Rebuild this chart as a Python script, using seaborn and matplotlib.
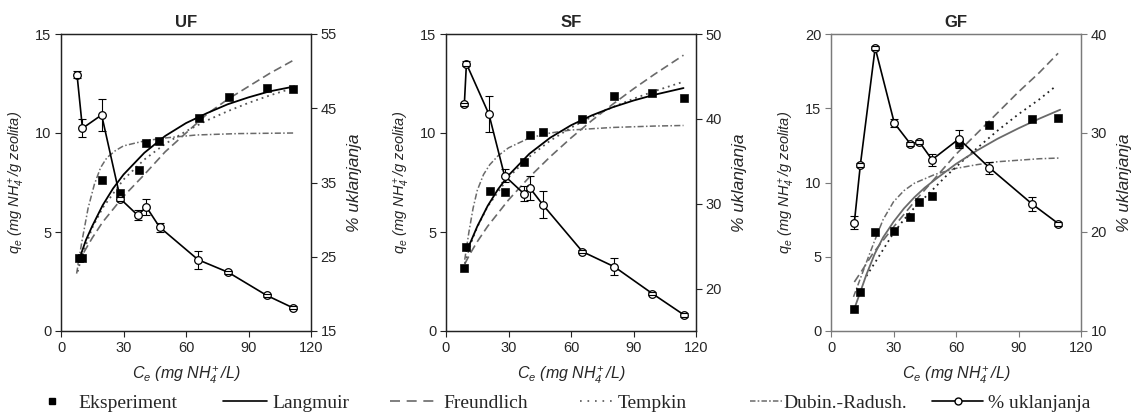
import matplotlib
matplotlib.use("Agg")
import matplotlib.pyplot as plt
from matplotlib.lines import Line2D
import seaborn as sns

sns.set_style("ticks")
plt.rcParams["font.family"] = ["Liberation Sans", "DejaVu Sans"]
plt.rcParams["mathtext.fontset"] = "custom"
plt.rcParams["mathtext.it"] = "Liberation Sans:italic"
plt.rcParams["mathtext.rm"] = "Liberation Sans:italic"
plt.rcParams["mathtext.bf"] = "Liberation Sans:bold"

# ---- UF ----
uf_ce_q = [8.6, 10.3, 19.5, 28.5, 37.2, 41.0, 47.1, 66.2, 80.4, 98.7, 111.5]
uf_qe = [3.67, 3.67, 7.62, 6.96, 8.12, 9.47, 9.59, 10.74, 11.83, 12.25, 12.2]
uf_ce_p = [7.7, 10.3, 19.5, 28.5, 36.8, 41.0, 47.3, 65.8, 80.3, 98.7, 111.5]
uf_pct = [49.5, 42.3, 44.1, 32.8, 30.6, 31.7, 29.0, 24.6, 22.9, 19.8, 18.1]
uf_err = [0.45, 1.2, 2.1, 0.3, 0.7, 1.1, 0.6, 1.2, 0.2, 0.2, 0.2]

uf_lang_x = [9, 12, 15, 20, 25, 30, 40, 50, 60, 70, 80, 90, 100, 112]
uf_lang_y = [3.7, 4.6, 5.3, 6.35, 7.2, 7.9, 9.0, 9.85, 10.5, 11.0, 11.45, 11.8, 12.1, 12.35]
uf_freu_x = [8, 10, 15, 20, 30, 40, 50, 60, 70, 80, 90, 100, 112]
uf_freu_y = [3.4, 3.8, 4.7, 5.5, 6.8, 7.9, 9.05, 10.0, 10.95, 11.7, 12.35, 13.0, 13.7]
uf_temp_x = [8, 10, 15, 20, 30, 40, 50, 60, 70, 80, 90, 100, 112]
uf_temp_y = [3.0, 3.78, 5.21, 6.22, 7.65, 8.66, 9.45, 10.09, 10.63, 11.1, 11.52, 11.89, 12.29]
uf_dr_x = [7.5, 10, 13, 16, 19, 22, 26, 30, 40, 50, 65, 85, 112]
uf_dr_y = [2.9, 4.5, 6.2, 7.4, 8.25, 8.75, 9.1, 9.35, 9.6, 9.75, 9.9, 9.97, 10.0]

# ---- SF ----
sf_ce_q = [8.8, 9.8, 20.9, 28.1, 37.3, 40.3, 46.4, 65.5, 80.8, 99.1, 114.2]
sf_qe = [3.17, 4.23, 7.05, 7.0, 8.53, 9.89, 10.03, 10.72, 11.85, 12.02, 11.75]
sf_ce_p = [8.8, 9.8, 20.6, 28.1, 37.3, 40.3, 46.4, 65.5, 80.8, 99.1, 114.2]
sf_pct = [41.7, 46.5, 40.55, 33.3, 31.2, 31.85, 29.9, 24.35, 22.57, 19.4, 16.9]
sf_err = [0.2, 0.3, 2.1, 0.8, 0.9, 1.4, 1.6, 0.2, 1.0, 0.2, 0.2]

sf_lang_x = [9.8, 12, 15, 20, 25, 30, 40, 50, 60, 70, 80, 90, 100, 114]
sf_lang_y = [4.05, 4.54, 5.28, 6.32, 7.16, 7.86, 8.95, 9.76, 10.39, 10.89, 11.3, 11.64, 11.93, 12.27]
sf_freu_x = [9, 12, 15, 20, 30, 40, 50, 60, 70, 80, 90, 100, 114]
sf_freu_y = [3.39, 3.98, 4.51, 5.29, 6.62, 7.77, 8.8, 9.75, 10.63, 11.45, 12.23, 12.96, 13.93]
sf_temp_x = [9, 12, 15, 20, 30, 40, 50, 60, 70, 80, 90, 100, 114]
sf_temp_y = [3.4, 4.44, 5.25, 6.29, 7.76, 8.8, 9.61, 10.27, 10.82, 11.31, 11.73, 12.11, 12.59]
sf_dr_x = [9, 11, 13, 15, 18, 21, 25, 30, 40, 50, 60, 80, 100, 114]
sf_dr_y = [3.6, 5.0, 6.2, 7.1, 7.9, 8.4, 8.85, 9.25, 9.75, 10.0, 10.15, 10.28, 10.35, 10.38]

# ---- GF ----
gf_ce_q = [11.2, 14.1, 21.2, 30.0, 38.1, 42.4, 48.5, 61.4, 76.0, 96.7, 109.1]
gf_qe = [1.5, 2.6, 6.7, 6.76, 7.66, 8.72, 9.08, 12.65, 13.87, 14.29, 14.31]
gf_ce_p = [11.2, 14.1, 21.2, 30.4, 38.1, 42.4, 48.5, 61.4, 76.0, 96.7, 109.1]
gf_pct = [20.95, 26.8, 38.6, 31.0, 28.9, 29.1, 27.3, 29.4, 26.5, 22.8, 20.85]
gf_err = [0.65, 0.2, 0.2, 0.4, 0.2, 0.2, 0.6, 0.9, 0.6, 0.7, 0.2]

gf_lang_x = [11.2, 14, 17, 21, 25, 30, 35, 40, 45, 50, 60, 70, 80, 90, 100, 110]
gf_lang_y = [1.5, 2.6, 3.8, 5.2, 6.3, 7.35, 8.25, 9.0, 9.65, 10.2, 11.25, 12.15, 12.95, 13.65, 14.3, 14.9]
gf_freu_x = [11.2, 15, 20, 25, 30, 40, 50, 60, 70, 80, 90, 100, 109]
gf_freu_y = [3.3, 4.1, 5.2, 6.1, 7.0, 8.7, 10.3, 11.9, 13.3, 14.7, 16.1, 17.4, 18.7]
gf_temp_x = [17, 22, 26, 30, 35, 40, 48, 55, 62, 70, 80, 90, 100, 108]
gf_temp_y = [3.7, 4.8, 5.7, 6.6, 7.5, 8.3, 9.4, 10.4, 11.3, 12.3, 13.5, 14.6, 15.6, 16.5]
gf_dr_x = [10.8, 14, 18, 21, 25, 30, 35, 40, 50, 60, 70, 80, 90, 100, 110]
gf_dr_y = [2.3, 3.5, 5.0, 6.1, 7.5, 8.7, 9.45, 9.95, 10.55, 10.95, 11.2, 11.4, 11.5, 11.6, 11.65]

titles = ["UF", "SF", "GF"]
left_lims = [(0, 15), (0, 15), (0, 20)]
left_ticks = [[0, 5, 10, 15], [0, 5, 10, 15], [0, 5, 10, 15, 20]]
right_lims = [(15, 55), (15, 50), (10, 40)]
right_ticks = [[15, 25, 35, 45, 55], [20, 30, 40, 50], [10, 20, 30, 40]]

FREU = (0, (5, 2.6))
TEMP = (0, (1, 2.2))
DR = (0, (4, 1.5, 1, 1.5))

panels = [
    dict(cq=uf_ce_q, q=uf_qe, cp=uf_ce_p, p=uf_pct, e=uf_err,
         lang=(uf_lang_x, uf_lang_y), freu=(uf_freu_x, uf_freu_y),
         temp=(uf_temp_x, uf_temp_y), dr=(uf_dr_x, uf_dr_y),
         lang_c="black", temp_c="#555555", spine="#222222"),
    dict(cq=sf_ce_q, q=sf_qe, cp=sf_ce_p, p=sf_pct, e=sf_err,
         lang=(sf_lang_x, sf_lang_y), freu=(sf_freu_x, sf_freu_y),
         temp=(sf_temp_x, sf_temp_y), dr=(sf_dr_x, sf_dr_y),
         lang_c="black", temp_c="#555555", spine="#222222"),
    dict(cq=gf_ce_q, q=gf_qe, cp=gf_ce_p, p=gf_pct, e=gf_err,
         lang=(gf_lang_x, gf_lang_y), freu=(gf_freu_x, gf_freu_y),
         temp=(gf_temp_x, gf_temp_y), dr=(gf_dr_x, gf_dr_y),
         lang_c="#6a6a6a", temp_c="#222222", spine="#7a7a7a"),
]

fig = plt.figure(figsize=(11.36, 4.16), dpi=100)
W, H = 1136, 416
lefts = [61, 446, 831]

for i, pnl in enumerate(panels):
    ax = fig.add_axes([lefts[i] / W, 85 / H, 250 / W, 297 / H])
    ax2 = ax.twinx()

    sns.lineplot(x=pnl["dr"][0], y=pnl["dr"][1], ax=ax, color="#6a6a6a",
                 linestyle=DR, lw=1.1, sort=False, estimator=None)
    sns.lineplot(x=pnl["freu"][0], y=pnl["freu"][1], ax=ax, color="#6a6a6a",
                 linestyle=FREU, lw=1.2, sort=False, estimator=None)
    sns.lineplot(x=pnl["temp"][0], y=pnl["temp"][1], ax=ax, color=pnl["temp_c"],
                 linestyle=TEMP, lw=1.3, sort=False, estimator=None)
    sns.lineplot(x=pnl["lang"][0], y=pnl["lang"][1], ax=ax, color=pnl["lang_c"],
                 lw=1.3, sort=False, estimator=None)
    sns.scatterplot(x=pnl["cq"], y=pnl["q"], ax=ax, marker="s", s=32,
                    color="black", edgecolor="black", zorder=4)

    # error bars behind the open circles, caps on top
    eb = ax2.errorbar(pnl["cp"], pnl["p"], yerr=pnl["e"], fmt="none",
                      ecolor="black", elinewidth=0.8, capsize=3, capthick=0.8)
    for bl in eb[2]:
        bl.set_zorder(1.5)
    for cl in eb[1]:
        cl.set_zorder(3)
    sns.lineplot(x=pnl["cp"], y=pnl["p"], ax=ax2, color="black", lw=1.2,
                 marker="o", markersize=5.5, markerfacecolor="white",
                 markeredgecolor="black", markeredgewidth=0.9,
                 sort=False, estimator=None, zorder=2)

    ax.set_xlim(0, 120)
    ax.set_xticks([0, 30, 60, 90, 120])
    ax.set_ylim(*left_lims[i])
    ax.set_yticks(left_ticks[i])
    ax2.set_ylim(*right_lims[i])
    ax2.set_yticks(right_ticks[i])

    for a in (ax, ax2):
        a.tick_params(direction="out", length=4, width=0.8, labelsize=10.5,
                      color=pnl["spine"], pad=3)
        for sp in a.spines.values():
            sp.set_visible(True)
            sp.set_color(pnl["spine"])
            sp.set_linewidth(0.9)

    ax.set_title(titles[i], fontfamily="Liberation Sans", fontweight="bold",
                 fontsize=12, pad=5)
    ax.set_ylabel(r"$q_e$ (mg NH$_4^+$/g zeolita)", fontstyle="italic",
                  fontsize=10.5)
    ax.yaxis.set_label_coords(-0.135, 0.5)
    ax2.set_ylabel("% uklanjanja", fontstyle="italic", fontsize=12.5)
    ax2.yaxis.set_label_coords(1.145, 0.5)
    ax.set_xlabel(r"$C_e$ (mg NH$_4^+$/L)", fontstyle="italic", fontsize=11.5)
    ax.xaxis.set_label_coords(0.5, -0.115)

# legend: one entry per box, placed along the bottom row
leg_font = dict(family="Liberation Serif", size=14)
entries = [
    (Line2D([], [], ls="none", marker="s", color="black", markersize=5),
     "Eksperiment", 40, 1.2, 0.8),
    (Line2D([], [], color="black", lw=1.2), "Langmuir", 223, 2.27, 0.26),
    (Line2D([], [], color="#6a6a6a", lw=1.2, ls=(0, (6, 4))),
     "Freundlich", 390, 2.58, 0.15),
    (Line2D([], [], color="#555555", lw=1.2, ls=(0, (1, 3.5))),
     "Tempkin", 580, 1.7, 0.26),
    (Line2D([], [], color="#6a6a6a", lw=1.1, ls=(0, (3.6, 1.4, 1.1, 1.4))),
     "Dubin.-Radush.", 750, 1.65, 0.05),
    (Line2D([], [], color="black", lw=1.2, marker="o", markersize=5,
            markerfacecolor="white", markeredgecolor="black"),
     "% uklanjanja", 932, 2.63, 0.26),
]
for h, lab, x0, hl, tp in entries:
    fig.legend(handles=[h], labels=[lab], loc="center left",
               bbox_to_anchor=(x0 / W, 1 - 403 / H), frameon=False,
               borderpad=0, borderaxespad=0, handlelength=hl,
               handletextpad=tp, prop=leg_font, numpoints=1)

fig.savefig("out.png", dpi=100)
